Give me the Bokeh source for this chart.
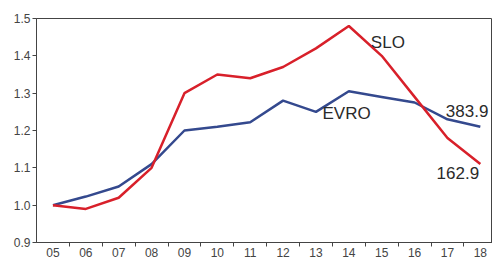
from bokeh.plotting import figure
from bokeh.models import FixedTicker, ColumnDataSource, Range1d
from bokeh.core.properties import value
from bokeh.embed import file_html
from bokeh.resources import INLINE

years = ["05", "06", "07", "08", "09", "10", "11", "12", "13", "14", "15", "16", "17", "18"]
slo = [1.00, 0.99, 1.02, 1.10, 1.30, 1.35, 1.34, 1.37, 1.42, 1.48, 1.40, 1.29, 1.18, 1.11]
evro = [1.00, 1.023, 1.05, 1.11, 1.20, 1.21, 1.222, 1.28, 1.25, 1.305, 1.29, 1.275, 1.23, 1.21]
y_ticks = [0.9, 1.0, 1.1, 1.2, 1.3, 1.4, 1.5]

label_text = ["SLO", "EVRO", "383.9", "162.9"]
label_x = [10.67, 9.2, 12.95, 12.67]
label_y = [1.436, 1.245, 1.251, 1.085]

xs = list(range(1, len(years) + 1))

p = figure(width=492, height=259, output_backend="svg", toolbar_location=None,
           x_range=Range1d(0.5, 14.37), y_range=Range1d(0.9, 1.5),
           min_border_left=36, min_border_right=0, min_border_top=18, min_border_bottom=17)
p.background_fill_color = "white"
p.border_fill_color = "white"
p.outline_line_color = "#444444"
p.outline_line_width = 1
p.xgrid.visible = False
p.ygrid.visible = False

p.line(xs, evro, line_color="#34498E", line_width=2.5)
p.line(xs, slo, line_color="#D8202A", line_width=2.5)

src = ColumnDataSource(dict(x=label_x, y=label_y, t=label_text))
p.text(x="x", y="y", text="t", source=src, text_font=value("Liberation Sans"),
       text_font_size="17px", text_color="#2a2a2a", text_baseline="middle", text_align="left")

xa = p.xaxis[0]
xa.ticker = FixedTicker(ticks=xs, minor_ticks=[x + 0.5 for x in xs])
xa.major_label_overrides = {x: y for x, y in zip(xs, years)}
xa.major_tick_line_color = None
xa.major_tick_out = 0
xa.major_tick_in = 0
xa.minor_tick_out = 4
xa.minor_tick_in = 0
xa.minor_tick_line_color = "#444444"
xa.major_label_standoff = 1
xa.axis_line_color = "#444444"
xa.major_label_text_font = "Liberation Sans"
xa.major_label_text_font_size = "12px"
xa.major_label_text_color = "#444444"

ya = p.yaxis[0]
ya.ticker = FixedTicker(ticks=y_ticks)
ya.major_label_overrides = {t: f"{t:.1f}" for t in y_ticks}
ya.minor_tick_line_color = None
ya.major_tick_out = 4
ya.major_tick_in = 0
ya.major_tick_line_color = "#444444"
ya.axis_line_color = "#444444"
ya.major_label_standoff = 2
ya.major_label_text_font = "Liberation Sans"
ya.major_label_text_font_size = "12px"
ya.major_label_text_color = "#444444"

open("out.html", "w").write(file_html(p, INLINE))
